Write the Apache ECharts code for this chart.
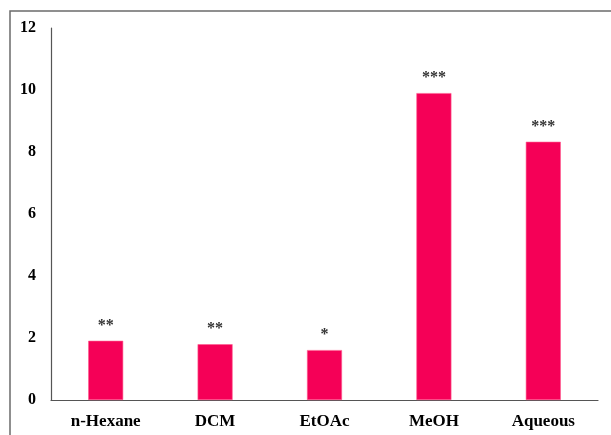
<!DOCTYPE html>
<html>
<head>
<meta charset="utf-8">
<style>
  html, body { margin: 0; padding: 0; background: #fff; }
  #chart { width: 611px; height: 435px; }
</style>
<script src="https://cdn.jsdelivr.net/npm/echarts@6/dist/echarts.min.js"></script>
</head>
<body>
<div id="chart"></div>
<script>
// Extract groups and measured values
const categories = ['n-Hexane', 'DCM', 'EtOAc', 'MeOH', 'Aqueous'];
const values = [1.91, 1.80, 1.61, 9.90, 8.33];
// Significance markers shown above each bar
const significance = ['**', '**', '*', '***', '***'];
const yTicks = [0, 2, 4, 6, 8, 10, 12];

const chart = echarts.init(document.getElementById('chart'), null, { renderer: 'canvas' });

const serif = '"Liberation Serif", "Times New Roman", serif';

chart.setOption({
  animation: false,
  backgroundColor: '#ffffff',
  graphic: [{
    type: 'rect',
    shape: { x: 10, y: 11, width: 640, height: 460 },
    style: { fill: 'none', stroke: '#6b6b6b', lineWidth: 1.5 },
    silent: true
  }],
  grid: { left: 51, top: 28, right: 13, bottom: 35, containLabel: false },
  xAxis: {
    type: 'category',
    data: categories,
    axisLine: { show: true, lineStyle: { color: '#555', width: 1.2 } },
    axisTick: { show: false },
    axisLabel: {
      color: '#000', fontFamily: serif, fontWeight: 'bold', fontSize: 17, margin: 13
    },
    splitLine: { show: false }
  },
  yAxis: {
    type: 'value',
    min: yTicks[0],
    max: yTicks[yTicks.length - 1],
    interval: yTicks[1] - yTicks[0],
    axisLine: { show: true, lineStyle: { color: '#555', width: 1.2 } },
    axisTick: { show: false },
    splitLine: { show: false },
    axisLabel: {
      color: '#000', fontFamily: serif, fontWeight: 'bold', fontSize: 16, margin: 15
    }
  },
  series: [{
    type: 'bar',
    data: values,
    barWidth: 35,
    itemStyle: { color: '#f50057', borderColor: '#ff5c8f', borderWidth: 0.6 },
    label: {
      show: true,
      position: 'top',
      distance: 7,
      formatter: (p) => significance[p.dataIndex],
      color: '#333',
      fontFamily: serif,
      fontWeight: 'bold',
      fontSize: 16
    }
  }]
});
</script>
</body>
</html>
